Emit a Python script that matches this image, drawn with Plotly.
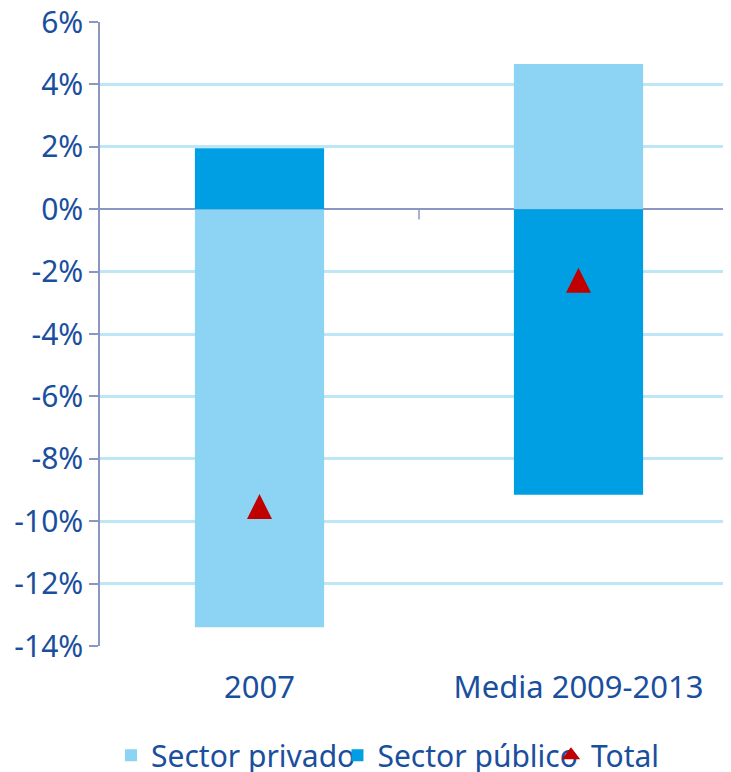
import plotly.graph_objects as go

categories = ["2007", "Media 2009-2013"]
sector_privado = [-13.4, 4.65]
sector_publico = [1.95, -9.15]
total = [-9.55, -2.3]
tick_vals = [6, 4, 2, 0, -2, -4, -6, -8, -10, -12, -14]
tick_text = ["6%", "4%", "2%", "0%", "-2%", "-4%", "-6%", "-8%", "-10%", "-12%", "-14%"]

text_color = "#1A4F9E"
axis_color = "#8C96C3"
font_family = "Noto Sans"
c_priv = "#8DD3F3"
c_pub = "#009FE3"
c_total = "#C00000"

y_range = [-14, 6]
# marker is drawn apex-at-point; shift its axis so the triangle is centred on the value
marker_shift = 0.42

fig = go.Figure()
fig.add_trace(go.Bar(
    x=categories, y=sector_privado, name="Sector privado", legend="legend",
    marker=dict(color=c_priv, line=dict(width=0)), width=0.405,
))
fig.add_trace(go.Bar(
    x=categories, y=sector_publico, name="Sector público", legend="legend2",
    marker=dict(color=c_pub, line=dict(width=0)), width=0.405,
))
fig.add_trace(go.Scatter(
    x=categories, y=total, name="Total", mode="markers", yaxis="y2",
    showlegend=False,
    marker=dict(symbol="arrow-up", size=25, color=c_total, line=dict(width=0)),
))
# legend entry for Total
fig.add_trace(go.Scatter(
    x=[None], y=[None], name="Total", mode="markers", legend="legend3",
    marker=dict(symbol="triangle-up", size=16, color=c_total, line=dict(width=0)),
))

# category separator tick on the zero line
fig.add_shape(type="line", xref="x", yref="y", x0=0.5, x1=0.5, y0=0, y1=-0.33,
              line=dict(color=axis_color, width=1.5))

legend_common = dict(
    orientation="h", xref="container", yref="container",
    xanchor="left", y=0.056, yanchor="top",
    font=dict(size=30, color=text_color, family=font_family),
    itemwidth=30, bgcolor="rgba(0,0,0,0)",
)

fig.update_layout(
    width=723, height=764,
    margin=dict(l=92, r=0, t=14, b=125.5, autoexpand=False),
    barmode="relative",
    plot_bgcolor="white", paper_bgcolor="white",
    font=dict(family=font_family, color=text_color),
    showlegend=True,
    legend=dict(x=0.1425, **legend_common),
    legend2=dict(x=0.4557, **legend_common),
    legend3=dict(x=0.751, **legend_common),
    xaxis=dict(
        range=[-0.5, 1.478], showgrid=False, showline=False, ticks="",
        tickfont=dict(size=31, color=text_color, family=font_family),
        ticklabelstandoff=20, zeroline=False, automargin=False,
    ),
    yaxis=dict(
        range=y_range, tickvals=tick_vals, ticktext=tick_text,
        showgrid=True, gridcolor="#BDE6F7", gridwidth=2.5,
        showline=True, linecolor=axis_color, linewidth=1.5,
        ticks="outside", ticklen=9, tickcolor=axis_color, tickwidth=1.5,
        tickfont=dict(size=30, color=text_color, family=font_family),
        ticklabelstandoff=0, ticklabeloverflow="allow", automargin=False,
        zeroline=True, zerolinecolor=axis_color, zerolinewidth=1.5,
    ),
    yaxis2=dict(
        range=[y_range[0] - marker_shift, y_range[1] - marker_shift],
        overlaying="y", visible=False, showgrid=False, zeroline=False,
    ),
)

fig.write_html("out.html")
